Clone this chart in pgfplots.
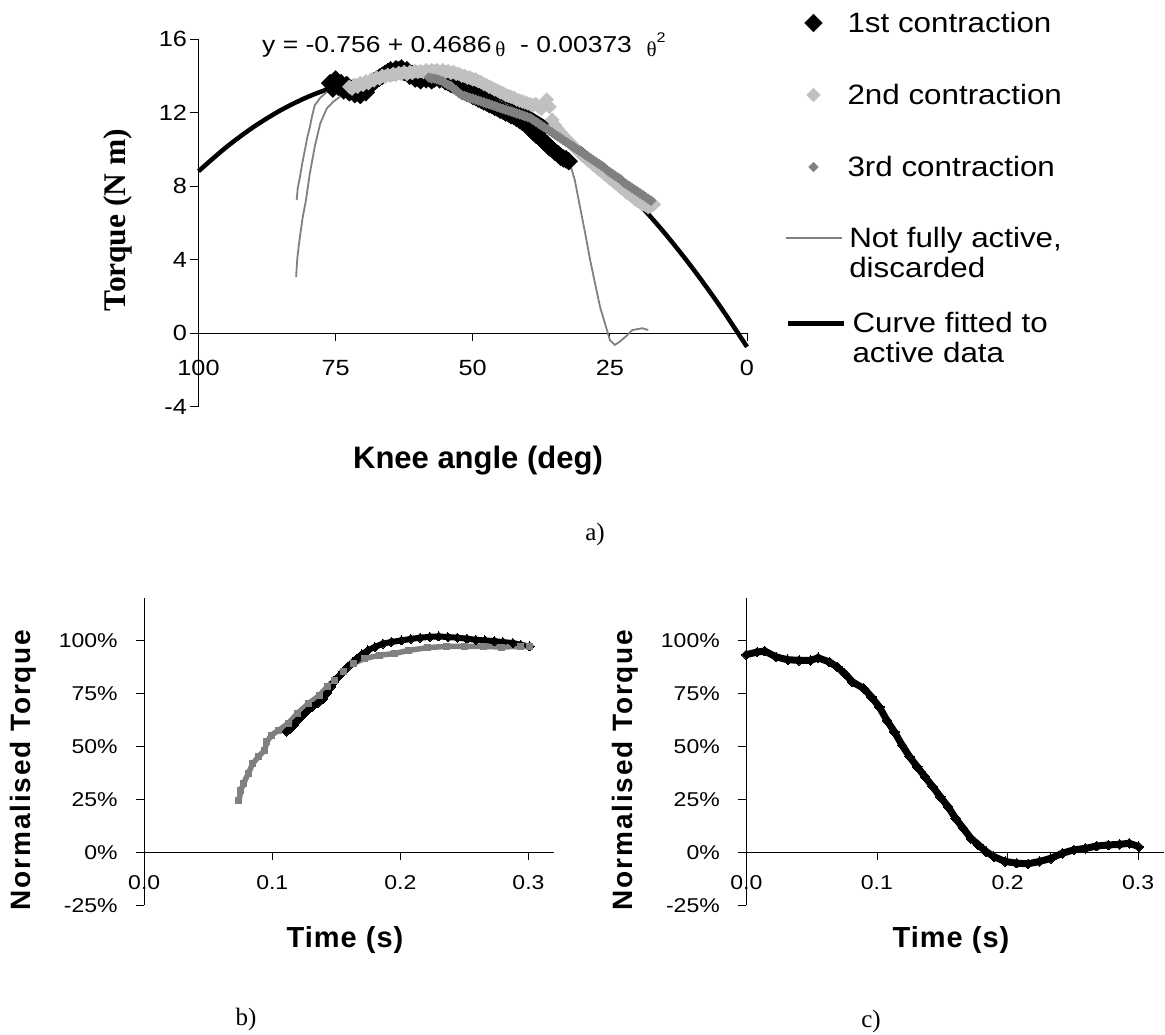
\documentclass[border=0pt]{standalone}
\usepackage{fontspec}
\usepackage{pgfplots}
\pgfplotsset{compat=1.18}
\setmainfont{Liberation Sans}
\newfontfamily\tickfont[FakeStretch=1.15]{Liberation Sans}
\newfontfamily\legfont[FakeStretch=1.12]{Liberation Sans}
\newfontfamily\spacedA[LetterSpace=6.5]{Liberation Sans}
\newfontfamily\spacedB[LetterSpace=3.5]{Liberation Sans}
\newfontfamily\timesfont{Liberation Serif}
\definecolor{lgrey}{RGB}{192,192,192}
\definecolor{dgrey}{RGB}{128,128,128}
\pgfplotsset{
  myaxis/.style={
    scale only axis, clip=false,
    axis x line=middle, axis y line=left,
    hide obscured x ticks=false, hide obscured y ticks=false,
    axis line style={-, black, line width=0.8pt},
    every inner x axis line/.append style={-},
    every outer x axis line/.append style={-},
    every inner y axis line/.append style={-},
    every outer y axis line/.append style={-},
    tick align=outside, major tick length=8pt,
    tick style={black, line width=0.8pt},
  },
  markleg/.style={legend image code/.code={\path[draw=none] (0pt,0pt) -- (56pt,0pt); \draw[##1, draw=none] plot coordinates {(28pt,0pt)};}},
  lineleg/.style={legend image code/.code={\draw[##1] (0pt,0pt) -- (56pt,0pt);}},
  legaxis/.style={hide axis, scale only axis, width=1pt, height=1pt,
    xmin=0, xmax=1, ymin=0, ymax=1, anchor=center,
    legend style={at={(0,0.5)}, anchor=west, draw=none, fill=none,
      inner sep=0pt, outer sep=0pt, nodes={inner sep=0pt}, column sep=6pt,
      font=\legfont\fontsize{28}{30}\selectfont},
    legend cell align=left},
  m1/.style={only marks, mark=square*, mark size=6.3pt, mark options={rotate=45, fill=black, draw=black}},
  m2/.style={only marks, mark=square*, mark size=4.9pt, mark options={rotate=45, fill=lgrey, draw=lgrey}},
  m3/.style={only marks, mark=square*, mark size=3.5pt, mark options={rotate=45, fill=dgrey, draw=dgrey}},
}
\begin{document}
\begin{tikzpicture}
\useasboundingbox (0,0) rectangle (1165pt,-1034pt);

% ---------------- a) ----------------
\begin{axis}[myaxis,
  at={(198.5pt,-406.5pt)}, anchor=south west,
  width=548.5pt, height=367.5pt,
  xmin=0, xmax=100, x dir=reverse, ymin=-4, ymax=16,
  xtick={0,25,50,75,100}, xticklabels={0,25,50,75,100},
  ytick={-4,0,4,8,12,16}, yticklabels={-4,0,4,8,12,16},
  xticklabel style={font=\tickfont\fontsize{22}{26}\selectfont, yshift=-16pt},
  yticklabel style={font=\tickfont\fontsize{22}{26}\selectfont},
]
% fitted curve (drawn first, behind the data)
\addplot[black, line width=4.5pt, smooth] coordinates {
(100,8.804)(95,10.098)(90,11.205)(85,12.126)(80,12.860)(75,13.408)(70,13.769)
(65,13.944)(60,13.932)(55,13.734)(50,13.349)(45,12.778)(40,12.020)(35,11.076)
(30,9.945)(25,8.628)(20,7.124)(15,5.434)(10,3.557)(5,1.494)(0,-0.756)};
% not fully active traces
\addplot[dgrey, line width=1.8pt] coordinates {
(82.1,7.24)(81.9,7.9)(81.5,8.5)(81.1,9.2)(80.6,9.96)(80.2,10.6)(79.7,11.2)(79.3,11.8)
(78.8,12.4)(77.8,12.8)(76.3,13.2)(75.5,13.4)};
\addplot[dgrey, line width=1.8pt] coordinates {
(82.2,3.06)(82.0,4.0)(81.7,4.8)(81.5,5.24)(81.0,6.3)(80.4,7.24)(79.7,8.69)(78.8,10.14)
(77.8,11.41)(76.6,12.23)(75.4,12.59)(74.2,12.86)};
\addplot[dgrey, line width=1.8pt] coordinates {
(32.3,9.24)(31.4,8.33)(30.45,6.87)(29.5,5.43)(28.6,3.97)(27.7,2.70)(26.8,1.43)
(25.9,0.53)(25.0,-0.38)(24.1,-0.65)(23.2,-0.47)(21.8,-0.11)(20.9,0.16)(19.1,0.26)(18.0,0.16)};
% 1st contraction
\addplot[m1] coordinates {
(76,13.6)(75.5,13.3)(75,13.8)(74.5,13.4)(74,13.6)(73.5,13.2)(73,13.5)(72.5,13.1)(72,13.3)
(71.5,13.0)(71,13.2)(70.5,12.95)(70,13.15)(69.5,13.1)(69,13.4)(68.5,13.5)(68,13.7)(67.5,13.8)
(67,13.9)(66.5,14.0)(66,14.1)(65.5,14.2)(65,14.3)(64.5,14.2)(64,14.35)(63.5,14.3)(63,14.4)
(62.5,14.2)(62,14.3)(61.5,14.0)(61,14.1)(60.5,13.85)(60,13.9)(59.5,13.75)(59,13.95)(58.5,13.8)
(58,13.9)(57.5,13.75)(57,13.85)(56.5,14.0)(56,13.8)(55.5,13.85)(55,13.7)(54.5,13.65)(54,13.55)
(53.5,13.5)(53,13.4)(52.5,13.3)(52,13.2)(51.5,13.15)(51,13.05)(50.5,13.0)(50,12.9)(49.5,12.85)
(49,12.75)(48.5,12.7)(48,12.6)(47.5,12.55)(47,12.45)(46.5,12.4)(46,12.3)(45.5,12.25)(45,12.15)
(44.5,12.1)(44,12.0)(43.5,11.95)(43,11.85)(42.5,11.8)(42,11.7)(41.5,11.6)(41,11.5)(40.5,11.4)
(40,11.3)(39.5,11.1)(39,10.95)(38.5,10.8)(38,10.9)(37.5,10.55)(37,10.4)(36.5,10.3)(36,10.1)
(35.5,10.0)(35,9.85)(34.5,9.75)(34,9.6)(33.5,9.5)(33,9.45)(32.5,9.35)};
% 2nd contraction
\addplot[m2] coordinates {
(72.5,13.4)(72,13.3)(71.5,13.5)(71,13.4)(70.5,13.6)(70,13.5)(69.5,13.7)(69,13.6)(68.5,13.8)
(68,13.75)(67.5,13.9)(67,13.85)(66.5,14.0)(66,13.95)(65.5,14.05)(65,14.0)(64.5,14.1)(64,14.05)
(63.5,14.15)(63,14.1)(62.5,14.2)(62,14.1)(61.5,14.2)(61,14.15)(60.5,14.25)(60,14.2)(59.5,14.25)
(59,14.2)(58.5,14.3)(58,14.2)(57.5,14.3)(57,14.25)(56.5,14.3)(56,14.2)(55.5,14.3)(55,14.2)
(54.5,14.25)(54,14.15)(53.5,14.2)(53,14.1)(52.5,14.1)(52,14.0)(51.5,14.0)(51,13.9)(50.5,13.9)
(50,13.8)(49.5,13.8)(49,13.7)(48.5,13.65)(48,13.55)(47.5,13.5)(47,13.4)(46.5,13.35)(46,13.25)
(45.5,13.2)(45,13.1)(44.5,13.05)(44,12.95)(43.5,12.9)(43,12.85)(42.5,12.8)(42,12.7)(41.5,12.65)
(41,12.6)(40.5,12.55)(40,12.5)(39.5,12.45)(39,12.4)(38.5,12.45)(38,12.3)(37.5,12.2)(37,12.5)
(36.5,12.7)(36,12.3)(35.5,11.6)(35,11.3)(34.5,11.1)(34,10.9)(33.5,10.75)(33,10.6)(32.5,10.4)
(32,10.3)(31.5,10.1)(31,9.95)(30.5,9.8)(30,9.65)(29.5,9.55)(29,9.4)(28.5,9.3)(28,9.15)
(27.5,9.05)(27,8.9)(26.5,8.8)(26,8.65)(25.5,8.55)(25,8.4)(24.5,8.3)(24,8.15)(23.5,8.05)
(23,7.9)(22.5,7.8)(22,7.65)(21.5,7.55)(21,7.45)(20.5,7.3)(20,7.2)(19.5,7.1)(19,7.0)
(18.5,6.95)(18,6.85)(17.5,6.9)(17,7.0)};
% 3rd contraction
\addplot[m3] coordinates {
(58,13.9)(57.5,13.85)(57,13.85)(56.5,13.8)(56,13.75)(55.5,13.7)(55,13.6)(54.5,13.5)(54,13.45)
(53.5,13.3)(53,13.2)(52.5,13.05)(52,12.95)(51.5,12.9)(51,12.85)(50.5,12.8)(50,12.75)(49.5,12.7)
(49,12.65)(48.5,12.6)(48,12.55)(47.5,12.5)(47,12.45)(46.5,12.4)(46,12.35)(45.5,12.3)(45,12.25)
(44.5,12.2)(44,12.15)(43.5,12.1)(43,12.05)(42.5,12.0)(42,11.95)(41.5,11.9)(41,11.85)(40.5,11.8)
(40,11.75)(39.5,11.7)(39,11.6)(38.5,11.5)(38,11.4)(37.5,11.3)(37,11.2)(36.5,11.1)(36,11.0)
(35.5,10.9)(35,10.8)(34.5,10.7)(34,10.6)(33.5,10.5)(33,10.4)(32.5,10.3)(32,10.2)(31.5,10.1)
(31,10.0)(30.5,9.9)(30,9.8)(29.5,9.7)(29,9.6)(28.5,9.5)(28,9.4)(27.5,9.3)(27,9.2)(26.5,9.1)
(26,9.0)(25.5,8.85)(25,8.75)(24.5,8.65)(24,8.55)(23.5,8.45)(23,8.35)(22.5,8.2)(22,8.1)
(21.5,8.0)(21,7.9)(20.5,7.8)(20,7.7)(19.5,7.6)(19,7.5)(18.5,7.4)(18,7.3)(17.5,7.2)};
\end{axis}

% ---------------- legend of a) (one entry per hidden axis) ----------------
\begin{axis}[legaxis, at={(786pt,-23pt)}]
\addlegendimage{m1, markleg}
\addlegendentry{\raisebox{0pt}[20pt][0pt]{1st contraction}}
\end{axis}
\begin{axis}[legaxis, at={(786pt,-95pt)}]
\addlegendimage{m2, markleg}
\addlegendentry{\raisebox{0pt}[20pt][0pt]{2nd contraction}}
\end{axis}
\begin{axis}[legaxis, at={(786pt,-167pt)}]
\addlegendimage{m3, markleg}
\addlegendentry{\raisebox{0pt}[20pt][0pt]{3rd contraction}}
\end{axis}
\begin{axis}[legaxis, at={(786pt,-238pt)}]
\addlegendimage{dgrey, line width=1.8pt, lineleg}
\addlegendentry{\raisebox{0pt}[20pt][0pt]{\begin{tabular}[t]{@{}l@{}}Not fully active,\\discarded\end{tabular}}}
\end{axis}
\begin{axis}[legaxis, at={(786pt,-323pt)}]
\addlegendimage{black, line width=5pt, lineleg}
\addlegendentry{\raisebox{0pt}[20pt][0pt]{\begin{tabular}[t]{@{}l@{}}Curve fitted to\\active data\end{tabular}}}
\end{axis}

% ---------------- b) ----------------
\begin{axis}[myaxis,
  at={(144.2pt,-905.3pt)}, anchor=south west,
  width=409.9pt, height=307pt,
  xmin=0, xmax=0.32, ymin=-25, ymax=120,
  xtick={0,0.1,0.2,0.3}, xticklabels={0.0,0.1,0.2,0.3},
  ytick={-25,0,25,50,75,100}, yticklabels={-25\%,0\%,25\%,50\%,75\%,100\%},
  xticklabel style={font=\tickfont\fontsize{20}{24}\selectfont, yshift=-12pt},
  yticklabel style={font=\tickfont\fontsize{20}{24}\selectfont, xshift=-15pt},
]
\addplot[black, line width=6pt, line join=round, mark=square*, mark size=3.2pt, mark options={rotate=45, line width=0pt}] coordinates {
(0.1109,57.0)(0.1140,58.2)(0.1167,60.1)(0.1195,62.3)(0.1225,64.0)(0.1270,66.5)(0.1312,68.7)
(0.1355,70.6)(0.1399,72.6)(0.1430,75.5)(0.1457,78.2)(0.1485,80.6)(0.1515,82.9)(0.1550,85.3)
(0.1588,87.6)(0.1625,89.7)(0.1660,91.5)(0.1700,93.6)(0.1747,95.4)(0.1800,97.0)(0.1864,98.6)
(0.1930,99.4)(0.2009,100.1)(0.2080,100.8)(0.2154,101.4)(0.2230,101.8)(0.2299,102.0)(0.2370,101.7)
(0.2444,101.4)(0.2520,100.9)(0.2589,100.4)(0.2660,100.1)(0.2734,99.8)(0.2800,99.3)(0.2878,98.9)
(0.2940,98.0)(0.3009,97.3)};
\addplot[dgrey, line width=5.5pt, line join=round, mark=square*, mark size=3pt, mark options={line width=0pt}] coordinates {
(0.0740,24.7)(0.0755,29.4)(0.0775,32.5)(0.0813,37.3)(0.0848,42.0)(0.0891,45.1)(0.0941,48.3)
(0.0958,52.2)(0.0993,55.4)(0.1051,57.7)(0.1123,60.9)(0.1196,65.6)(0.1283,70.3)(0.1370,74.2)
(0.1428,78.2)(0.1486,81.3)(0.1559,85.3)(0.1631,89.2)(0.1718,91.5)(0.1835,93.1)(0.1951,93.9)
(0.2066,95.4)(0.2212,96.7)(0.2357,97.3)(0.2502,97.3)(0.2647,97.3)(0.2792,97.0)(0.2937,97.3)(0.3009,97.3)};
\end{axis}

% ---------------- c) ----------------
\begin{axis}[myaxis,
  at={(746.3pt,-905.3pt)}, anchor=south west,
  width=418pt, height=307pt,
  xmin=0, xmax=0.32, ymin=-25, ymax=120,
  xtick={0,0.1,0.2,0.3}, xticklabels={0.0,0.1,0.2,0.3},
  ytick={-25,0,25,50,75,100}, yticklabels={-25\%,0\%,25\%,50\%,75\%,100\%},
  xticklabel style={font=\tickfont\fontsize{20}{24}\selectfont, yshift=-12pt},
  yticklabel style={font=\tickfont\fontsize{20}{24}\selectfont, xshift=-15pt},
]
\addplot[black, line width=7pt, line join=round, mark=square*, mark size=3.4pt, mark options={rotate=45, line width=0pt}] coordinates {
(0.000,93.4)(0.0082,94.6)(0.0141,95.1)(0.0228,92.3)(0.0316,91.0)(0.0404,90.7)(0.0492,90.7)
(0.0550,91.9)(0.0637,89.9)(0.0696,87.6)(0.0754,84.4)(0.0813,80.5)(0.0900,77.4)(0.0959,73.4)
(0.1018,68.7)(0.1076,62.4)(0.1134,56.9)(0.1193,50.6)(0.1251,45.1)(0.1309,40.4)(0.1368,35.7)
(0.1427,31.0)(0.1485,26.3)(0.1544,21.6)(0.1602,16.1)(0.1660,11.4)(0.1719,6.7)(0.1777,3.5)
(0.1835,0.4)(0.1894,-2.0)(0.1982,-4.3)(0.2070,-5.1)(0.2157,-5.4)(0.2245,-4.3)(0.2332,-2.8)
(0.2420,-0.4)(0.2508,1.2)(0.2596,1.9)(0.2683,3.0)(0.2771,3.5)(0.2858,3.8)(0.2932,4.3)(0.3005,2.7)};
\end{axis}

% ---------------- texts ----------------
\node[anchor=base west, inner sep=0pt, font=\tickfont\fontsize{23}{26}\selectfont] at (262pt,-52pt)
  {y = -0.756 + 0.4686\,\raisebox{-4pt}{\timesfont\fontsize{21}{21}\selectfont θ}\ \ - 0.00373\ \ \raisebox{-4pt}{\timesfont\fontsize{21}{21}\selectfont θ}\raisebox{10pt}{\fontsize{14}{14}\selectfont 2}};
\node[rotate=90, inner sep=0pt, font=\timesfont\bfseries\fontsize{31.5}{34}\selectfont] at (117.5pt,-220pt) {Torque (N m)};
\node[inner sep=0pt, anchor=base, font=\bfseries\fontsize{31}{34}\selectfont] at (478pt,-468pt) {Knee angle (deg)};
\node[inner sep=0pt, anchor=base, font=\timesfont\fontsize{25}{28}\selectfont] at (595pt,-540pt) {a)};

\node[rotate=90, inner sep=0pt, font=\spacedA\bfseries\fontsize{28}{30}\selectfont] at (23pt,-770pt) {Normalised Torque};
\node[rotate=90, inner sep=0pt, font=\spacedA\bfseries\fontsize{28}{30}\selectfont] at (625pt,-770pt) {Normalised Torque};
\node[inner sep=0pt, anchor=base, font=\spacedB\bfseries\fontsize{29}{32}\selectfont] at (345pt,-947pt) {Time (s)};
\node[inner sep=0pt, anchor=base, font=\spacedB\bfseries\fontsize{29}{32}\selectfont] at (951pt,-947pt) {Time (s)};
\node[inner sep=0pt, anchor=base, font=\timesfont\fontsize{25}{28}\selectfont] at (246pt,-1025pt) {b)};
\node[inner sep=0pt, anchor=base, font=\timesfont\fontsize{25}{28}\selectfont] at (871pt,-1027pt) {c)};
\end{tikzpicture}
\end{document}
